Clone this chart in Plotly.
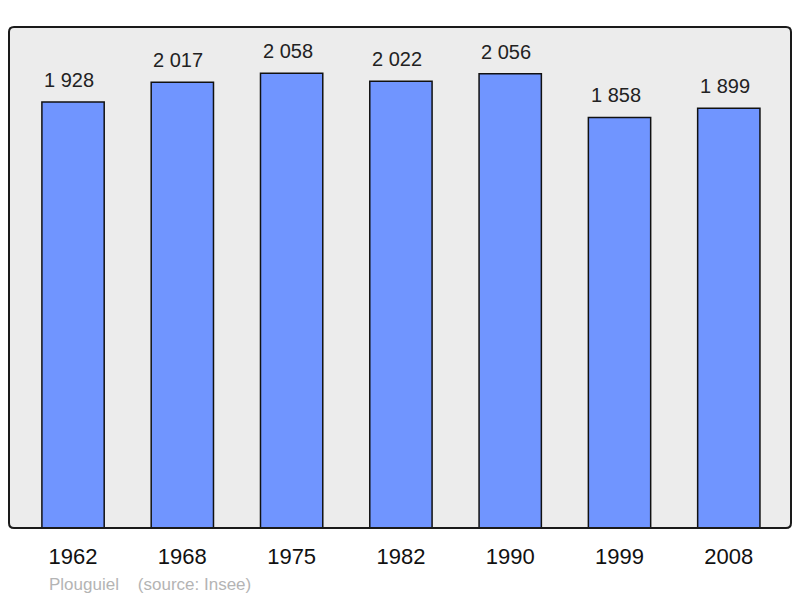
import plotly.graph_objects as go

# population data (Insee)
years = ["1962", "1968", "1975", "1982", "1990", "1999", "2008"]
population = [1928, 2017, 2058, 2022, 2056, 1858, 1899]
commune = "Plouguiel"
source = "(source: Insee)"

bar_color = "#7095ff"
font_family = "Liberation Sans, Arial, sans-serif"

fig = go.Figure()

fig.add_trace(go.Bar(
    x=years,
    y=population,
    width=0.57,
    marker=dict(color=bar_color, line=dict(color="#111111", width=1.5)),
    hoverinfo="x+y",
))

# value labels above each bar, french style thousands separator
# (category index as x, year strings would be read as numbers)
for i, val in enumerate(population):
    fig.add_annotation(
        x=i, y=val, xref="x", yref="y",
        text=f"{val:,}".replace(",", " "),
        showarrow=False, yanchor="bottom", yshift=9, xshift=-4,
        font=dict(size=20, color="#222222", family=font_family),
    )

fig.add_annotation(
    x=0.048, y=-0.112, xref="paper", yref="paper",
    text=f"{commune}    {source}".replace("    ", "&nbsp;&nbsp;&nbsp;&nbsp;"),
    showarrow=False, xanchor="left", yanchor="middle",
    font=dict(size=17, color="#b4b4b4", family=font_family),
)

# rounded frame around the plot area
rx, ry = 5 / 782, 5 / 501
frame = (
    f"M {rx} 0 L {1 - rx} 0 Q 1 0 1 {ry} L 1 {1 - ry} Q 1 1 {1 - rx} 1 "
    f"L {rx} 1 Q 0 1 0 {1 - ry} L 0 {ry} Q 0 0 {rx} 0 Z"
)
fig.add_shape(type="path", path=frame, xref="paper", yref="paper",
              line=dict(color="#1a1a1a", width=2), layer="above")

fig.update_layout(
    width=800, height=598,
    margin=dict(l=9, r=9, t=27, b=70),
    paper_bgcolor="white",
    plot_bgcolor="#ececec",
    showlegend=False,
    font=dict(family=font_family),
)
fig.update_xaxes(
    type="category", range=[-0.586, 6.569],
    showgrid=False, zeroline=False, showline=False,
    ticks="", ticklabelstandoff=13,
    tickfont=dict(size=22, color="#111111"),
)
fig.update_yaxes(
    range=[0, 2267], showgrid=False, zeroline=False,
    showticklabels=False, showline=False,
)

fig.write_html("out.html", config={"displayModeBar": False},
               post_script="document.body.style.margin='0';")
